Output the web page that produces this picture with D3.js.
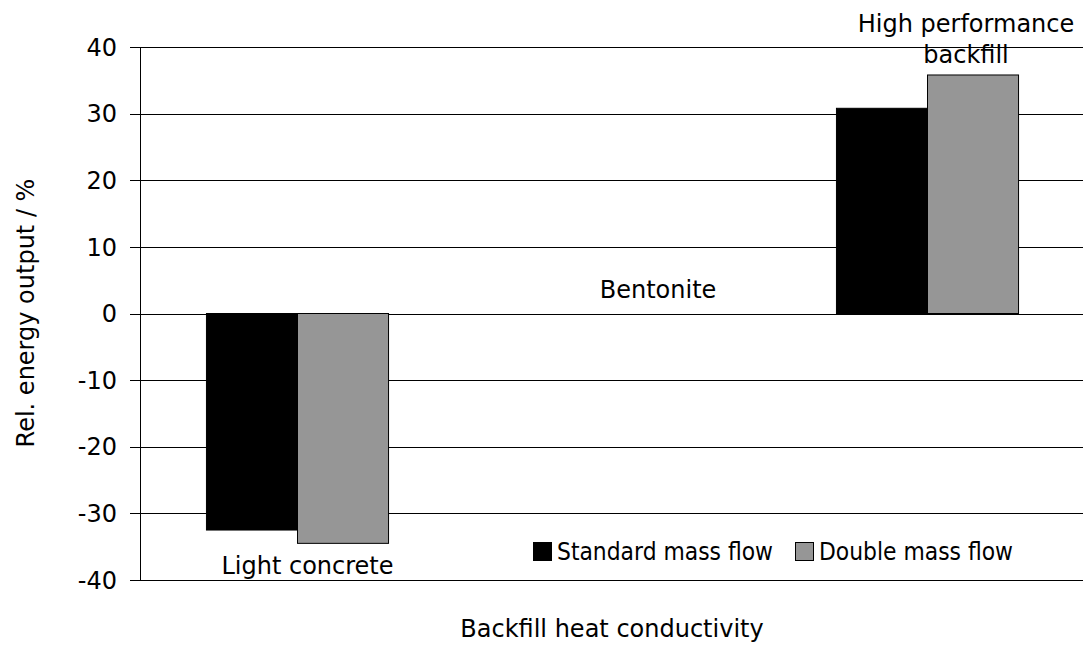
<!DOCTYPE html>
<html><head><meta charset="utf-8">
<script src="https://cdn.jsdelivr.net/npm/d3@7"></script>
<style>body{margin:0;background:#fff}svg{display:block}text{font-family:"DejaVu Sans",Verdana,sans-serif;fill:#000}</style>
</head><body><svg id="c" width="1083" height="648"></svg>
<script>
const categories = ["Light concrete", "Bentonite", "High performance backfill"];
const seriesNames = ["Standard mass flow", "Double mass flow"];
const standardFlow = [-32.5, 0, 30.8];
const doubleFlow = [-34.5, 0, 35.8];
const yTicks = [-40, -30, -20, -10, 0, 10, 20, 30, 40];
const colors = ["#000000", "#969696"];

const svg = d3.select("#c");
const m = {l:140, r:1085, t:47, b:580};
const x = d3.scaleBand().domain(categories).range([m.l, m.r]);
const xs = d3.scaleBand().domain(seriesNames).range([0, x.bandwidth()]).paddingOuter(0.73).paddingInner(0);
const y = d3.scaleLinear().domain([-40, 40]).range([m.b, m.t]);

// gridlines
svg.append("g").selectAll("line").data(yTicks).join("line")
  .attr("x1", m.l-10).attr("x2", 1083).attr("y1", d=>Math.round(y(d))+0.5).attr("y2", d=>Math.round(y(d))+0.5)
  .attr("stroke", "#000").attr("stroke-width", 1);
// tick labels
svg.append("g").selectAll("text").data(yTicks).join("text")
  .attr("x", 117).attr("y", d=>y(d)).attr("dy", "0.36em").attr("text-anchor","end")
  .attr("font-size", 24).text(d=>d);
// left axis
svg.append("line").attr("x1", m.l+0.5).attr("x2", m.l+0.5).attr("y1", m.t).attr("y2", m.b+0.5).attr("stroke","#000");

const series = [standardFlow, doubleFlow];
series.forEach((vals, si) => {
  svg.append("g").selectAll("rect").data(categories).join("rect")
    .attr("x", (c)=>x(c)+xs(seriesNames[si]))
    .attr("width", xs.bandwidth())
    .attr("y", (c,i)=>y(Math.max(0, vals[i])))
    .attr("height", (c,i)=>Math.abs(y(vals[i])-y(0)))
    .attr("fill", colors[si]).attr("stroke", "#000").attr("stroke-width", 1)
    .style("display", (c,i)=>vals[i]===0?"none":null);
});

// category labels
const lab = svg.append("g").attr("font-size", 24).attr("text-anchor","middle");
lab.append("text").attr("x", x(categories[0])+x.bandwidth()/2+10).attr("y", y(doubleFlow[0])+31).text(categories[0]);
lab.append("text").attr("x", x(categories[1])+xs(seriesNames[1])+xs.bandwidth()/2).attr("y", y(0)-16).text(categories[1]);
const cx3 = x(categories[2])+xs(seriesNames[1])+xs.bandwidth()/2-7;
const t3 = lab.append("text").attr("x", cx3).attr("y", y(doubleFlow[2])-43);
t3.append("tspan").text("High performance");
t3.append("tspan").attr("x", cx3).attr("dy", 31).text("backfill");

// legend
const lg = svg.append("g").attr("font-size", 24);
const legX = [533, 795];
const legW = [216, 194];
seriesNames.forEach((n,i)=>{
  lg.append("rect").attr("x", legX[i]+0.5).attr("y", 542.5).attr("width", 18).attr("height", 18).attr("fill", colors[i]).attr("stroke","#000");
  lg.append("text").attr("x", legX[i]+24).attr("y", 560).attr("textLength", legW[i]).attr("lengthAdjust","spacingAndGlyphs").text(n);
});

// axis titles
svg.append("text").attr("x", 612).attr("y", 637).attr("text-anchor","middle").attr("font-size",24).text("Backfill heat conductivity");
svg.append("text").attr("transform","translate(34,313) rotate(-90)").attr("text-anchor","middle").attr("font-size",24).text("Rel. energy output / %");
</script></body></html>
